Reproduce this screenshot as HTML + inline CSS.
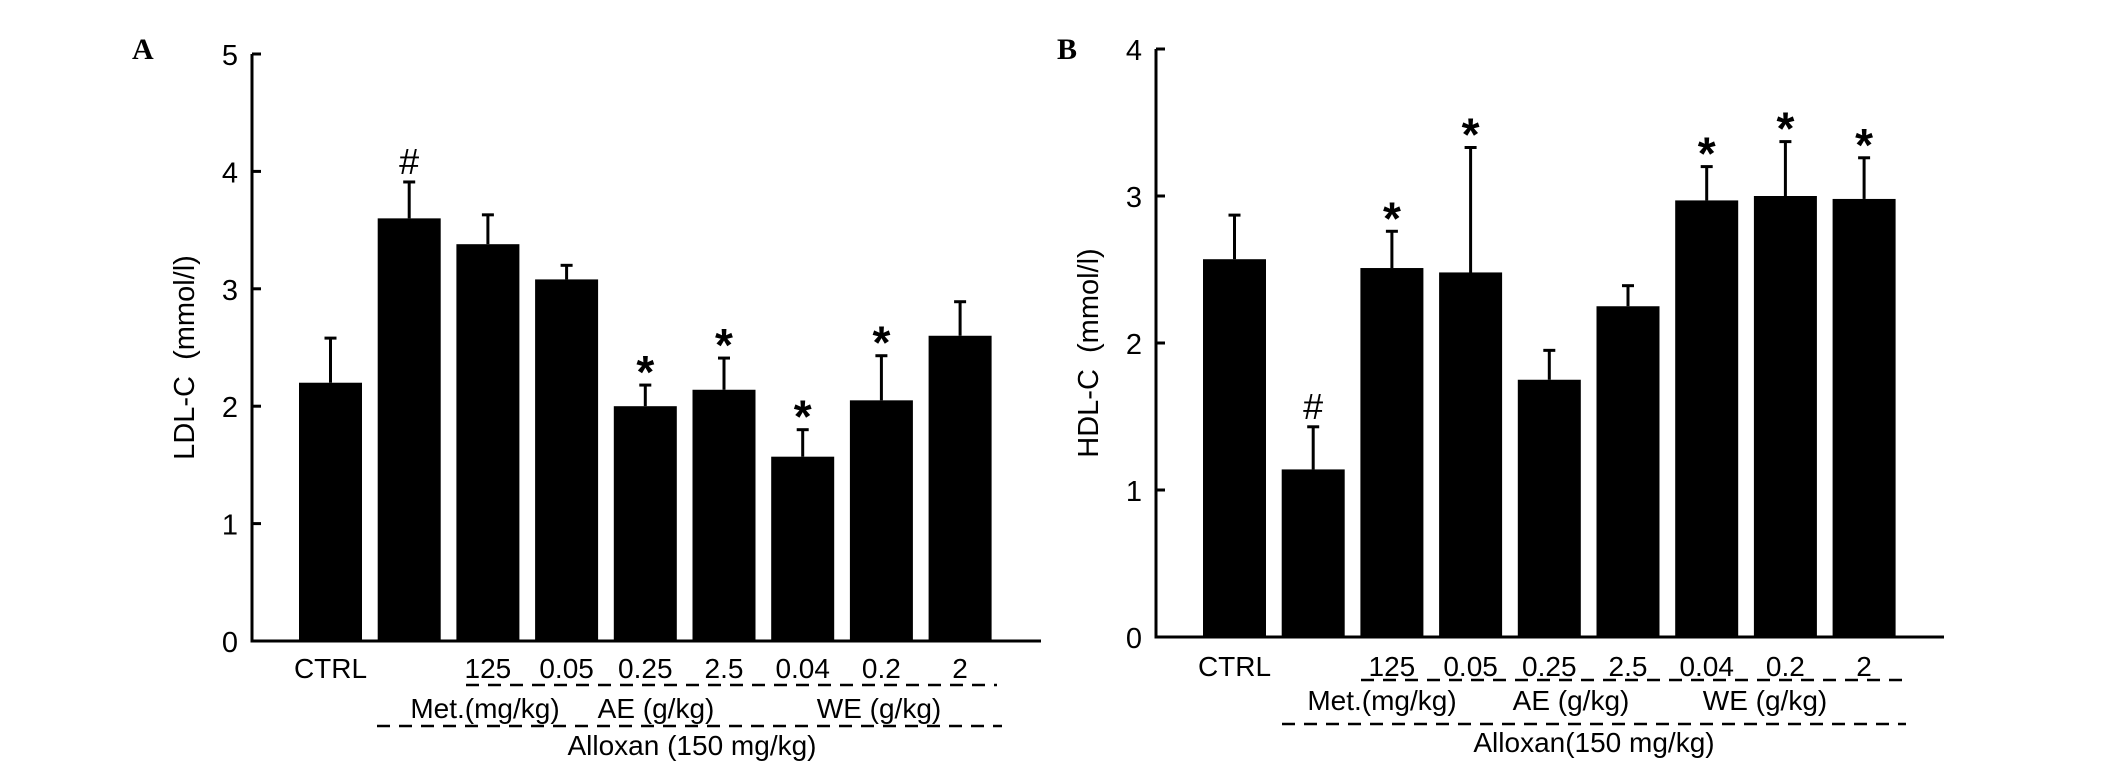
<!DOCTYPE html>
<html><head><meta charset="utf-8"><style>
html,body{margin:0;padding:0;background:#fff;width:2126px;height:772px;overflow:hidden}
svg text{font-family:"Liberation Sans",Arial,sans-serif;fill:#000}
</style></head><body>
<svg id="fig" width="2126" height="772" viewBox="0 0 2126 772" xmlns="http://www.w3.org/2000/svg"></svg>
<script>
const categories = ["CTRL","","125","0.05","0.25","2.5","0.04","0.2","2"];
const ldlValues = [2.2,3.6,3.38,3.08,2.0,2.14,1.57,2.05,2.6];
const ldlErrors = [0.38,0.31,0.25,0.12,0.18,0.27,0.23,0.38,0.29];
const ldlMarks = ["","#","","","*","*","*","*",""];
const ldlTicks = [0,1,2,3,4,5];
const hdlValues = [2.57,1.14,2.51,2.48,1.75,2.25,2.97,3.0,2.98];
const hdlErrors = [0.3,0.29,0.25,0.85,0.2,0.14,0.23,0.37,0.28];
const hdlMarks = ["","#","*","*","","","*","*","*"];
const hdlTicks = [0,1,2,3,4];

const svg = document.getElementById('fig');
const NS = "http://www.w3.org/2000/svg";
function mk(tag, attrs, parent){const e=document.createElementNS(NS,tag);for(const k in attrs)e.setAttribute(k,attrs[k]);(parent||svg).appendChild(e);return e;}
function txt(s, attrs, parent){const e=mk('text',attrs,parent);e.textContent=s;return e;}

function panel(o){
  const g = mk('g',{});
  
  
  const y = v => o.y0 - (v/o.ymax)*(o.y0-o.yTop);
  const x = i => o.barX0 + i*o.step;
  const lab = txt(o.letter,{x:o.letterX,y:59,'font-size':30,'font-weight':'bold',style:'font-family:"Liberation Serif",serif'},g);
  
  
  const ax = mk('path',{d:`M${o.axX},${o.yTop} V${o.y0} H${o.axEnd}`,stroke:'#000','stroke-width':3,fill:'none'},g);
  
  
  o.ticks.forEach(t=>{
    mk('line',{x1:o.axX,x2:o.axX+9,y1:y(t),y2:y(t),stroke:'#000','stroke-width':3},g);
    const tl = txt(String(t),{x:o.axX-14,y:y(t)+11,'font-size':29,'text-anchor':'end'},g);
    
    
  });
  const yt = txt(o.ytitle,{transform:`translate(${o.axX-58},${(o.y0+o.yTop)/2+10}) rotate(-90)`,'font-size':29,'text-anchor':'middle'},g);
  
  
  o.values.forEach((v,i)=>{
    const bx = x(i), top = y(v), et = y(v+o.errors[i]), cx = bx+o.bw/2;
    mk('line',{x1:cx,x2:cx,y1:top,y2:et,stroke:'#000','stroke-width':3},g);
    mk('line',{x1:cx-6,x2:cx+6,y1:et,y2:et,stroke:'#000','stroke-width':3},g);
    const b = mk('rect',{x:bx,y:top,width:o.bw,height:o.y0-top,fill:'#000'},g);
    
    
    if(o.marks[i]){
      const star = o.marks[i]==='*';
      const m = txt(o.marks[i],{x:cx,y:star?et+3:et-8,'font-size':star?46:36,'text-anchor':'middle','font-weight':star?'bold':'normal'},g);
      
      
    }
    if(categories[i]){
      const c = txt(categories[i],{x:cx,y:o.catY,'font-size':28,'text-anchor':'middle'},g);
      
      
    }
  });
  const d1 = mk('line',{x1:o.d1[0],x2:o.d1[1],y1:o.d1[2],y2:o.d1[2],stroke:'#000','stroke-width':2.5,'stroke-dasharray':'13,9'},g);
  
  
  const d2 = mk('line',{x1:o.d2[0],x2:o.d2[1],y1:o.d2[2],y2:o.d2[2],stroke:'#000','stroke-width':2.5,'stroke-dasharray':'13,9'},g);
  
  
  o.groups.forEach(gr=>{
    const t = txt(gr[0],{x:gr[1],y:o.grpY,'font-size':28,'text-anchor':'middle'},g);
    
    
  });
  const al = txt(o.alloxan,{x:o.alloxanX,y:o.alloxanY,'font-size':28,'text-anchor':'middle'},g);
  
  
}

panel({name:'ldl-chart',letter:'A',letterX:132,axX:252,axEnd:1041,y0:641,yTop:54,ymax:5,ticks:ldlTicks,
  barX0:299,step:78.7,bw:63,values:ldlValues,errors:ldlErrors,marks:ldlMarks,ytitle:'LDL-C\u00a0\u00a0(mmol/l)',
  catY:678,d1:[466,997,685],d2:[377,1002,726],grpY:718,
  groups:[['Met.(mg/kg)',485],['AE (g/kg)',656],['WE (g/kg)',879]],alloxan:'Alloxan (150 mg/kg)',alloxanX:692,alloxanY:755});
panel({name:'hdl-chart',letter:'B',letterX:1057,axX:1156,axEnd:1944,y0:637,yTop:49,ymax:4,ticks:hdlTicks,
  barX0:1203,step:78.7,bw:63,values:hdlValues,errors:hdlErrors,marks:hdlMarks,ytitle:'HDL-C\u00a0\u00a0(mmol/l)',
  catY:676,d1:[1361,1904,680],d2:[1282,1906,724],grpY:710,
  groups:[['Met.(mg/kg)',1382],['AE (g/kg)',1571],['WE (g/kg)',1765]],alloxan:'Alloxan(150 mg/kg)',alloxanX:1594,alloxanY:752});
</script>
</body></html>
